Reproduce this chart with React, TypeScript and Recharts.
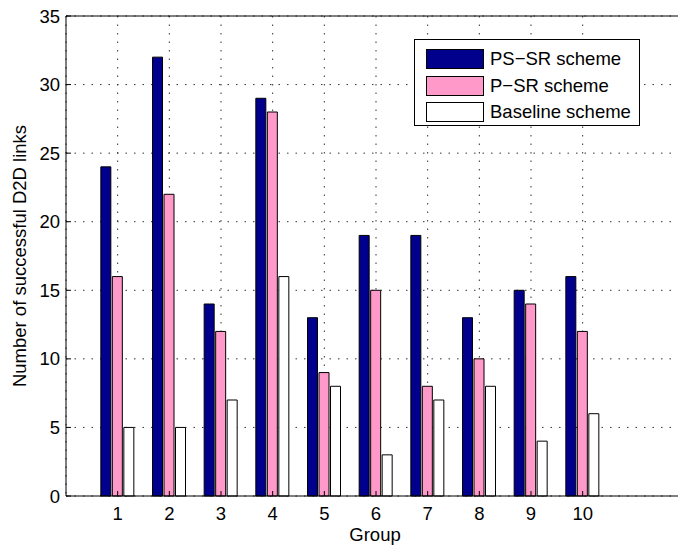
import { BarChart, Bar, XAxis, YAxis, CartesianGrid } from 'recharts'

const groups = [1, 2, 3, 4, 5, 6, 7, 8, 9, 10]
const psSr = [24, 32, 14, 29, 13, 19, 19, 13, 15, 16]
const pSr = [16, 22, 12, 28, 9, 15, 8, 10, 14, 12]
const baseline = [5, 5, 7, 16, 8, 3, 7, 8, 4, 6]
const yTicks = [0, 5, 10, 15, 20, 25, 30, 35]

const series = [
  { key: 'psSr', name: 'PS\u2212SR scheme', color: '#00008C' },
  { key: 'pSr', name: 'P\u2212SR scheme', color: '#FF99C9' },
  { key: 'baseline', name: 'Baseline scheme', color: '#FFFFFF' },
]

const data = groups.map((g, i) => ({
  group: g,
  psSr: psSr[i],
  pSr: pSr[i],
  baseline: baseline[i],
}))

const font = '"Liberation Sans", Arial, Helvetica, sans-serif'
const tickStyle = { fill: '#000', fontSize: 18.5, fontFamily: font }

const textBase = {
  position: 'absolute' as const,
  fontFamily: font,
  fontSize: 18.5,
  lineHeight: '18.5px',
  color: '#000',
  whiteSpace: 'nowrap' as const,
}

// legend drawn as a plain box over the chart
function LegendBox() {
  return (
    <div
      style={{
        position: 'absolute',
        left: 414,
        top: 39,
        width: 226,
        height: 87,
        border: '1px solid #000',
        background: '#fff',
        padding: '6px 0 6px 11px',
        fontFamily: font,
        fontSize: 18.5,
        color: '#000',
        boxSizing: 'border-box',
        whiteSpace: 'nowrap',
      }}
    >
      {series.map((s) => (
        <div key={s.key} style={{ display: 'flex', alignItems: 'center', height: 26.5 }}>
          <div
            style={{
              width: 56,
              height: 18,
              background: s.color,
              border: '1px solid #000',
              marginRight: 6,
              flex: 'none',
            }}
          />
          <span>{s.name}</span>
        </div>
      ))}
    </div>
  )
}

export default function App() {
  return (
    <div
      style={{
        position: 'absolute',
        left: 0,
        top: 0,
        width: 678,
        height: 549,
        overflow: 'hidden',
        background: '#fff',
      }}
    >
      <BarChart
        width={700}
        height={549}
        data={data}
        margin={{ top: 15, right: 14, bottom: 0, left: 0 }}
        barSize={10}
        barGap={1.5}
      >
        <CartesianGrid stroke="#333" strokeWidth={1} strokeDasharray="1.5 7" />
        <XAxis
          dataKey="group"
          type="number"
          domain={[0, 12]}
          ticks={groups}
          height={53}
          tickSize={-5}
          tickMargin={16}
          stroke="#000"
          tick={tickStyle}
        />
        <XAxis
          xAxisId="top"
          orientation="top"
          type="number"
          domain={[0, 12]}
          ticks={groups}
          height={1}
          tickSize={-5}
          tick={false}
          stroke="#000"
        />
        <YAxis
          domain={[0, 35]}
          ticks={yTicks}
          width={66}
          tickSize={-5}
          tickMargin={11}
          stroke="#000"
          tick={tickStyle}
        />
        {series.map((s) => (
          <Bar
            key={s.key}
            dataKey={s.key}
            name={s.name}
            fill={s.color}
            stroke="#000"
            strokeWidth={1}
            isAnimationActive={false}
          />
        ))}
      </BarChart>
      <div style={{ ...textBase, left: 375, top: 526, transform: 'translateX(-50%)' }}>Group</div>
      <div
        style={{
          ...textBase,
          left: 20,
          top: 256,
          transform: 'translate(-50%, -50%) rotate(-90deg)',
        }}
      >
        Number of successful D2D links
      </div>
      <LegendBox />
    </div>
  )
}
